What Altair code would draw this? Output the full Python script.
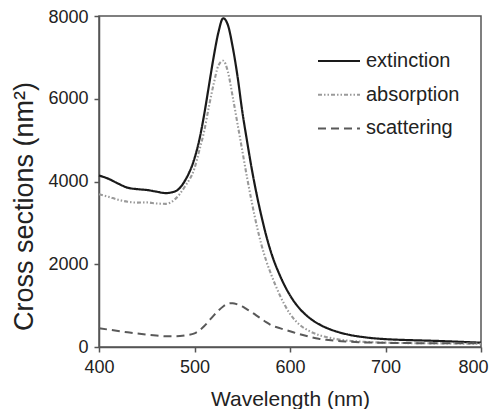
import altair as alt
import pandas as pd

wavelength = [400, 410, 420, 430, 440, 450, 460, 470, 480, 490, 500, 505, 510, 515, 520,
              525, 530, 535, 540, 545, 550, 555, 560, 565, 570, 575, 580, 590, 600, 610,
              620, 630, 640, 650, 660, 680, 700, 720, 750, 800]
extinction = [4145, 4065, 3950, 3850, 3815, 3795, 3755, 3720, 3765, 4020, 4560, 5000, 5600, 6300, 7000,
              7600, 7945, 7780, 7250, 6550, 5700, 4980, 4300, 3700, 3170, 2700, 2300, 1700, 1250, 930,
              710, 555, 445, 365, 305, 230, 190, 170, 150, 104]
absorption = [3690, 3630, 3560, 3510, 3490, 3495, 3470, 3460, 3580, 3880, 4320, 4750, 5200, 5800, 6350,
              6800, 6920, 6650, 6050, 5400, 4750, 4100, 3500, 2950, 2480, 2090, 1770, 1220, 800, 540,
              390, 290, 230, 185, 155, 122, 105, 95, 88, 80]
scattering = [455, 420, 387, 355, 325, 300, 278, 260, 258, 280, 330, 400, 500, 630, 760,
              880, 980, 1050, 1060, 1030, 980, 910, 840, 760, 680, 600, 530, 450, 380, 310,
              250, 200, 170, 145, 130, 110, 100, 95, 92, 88]

series_names = ["extinction", "absorption", "scattering"]
x_ticks = [400, 500, 600, 700, 800]
y_ticks = [0, 2000, 4000, 6000, 8000]

series_values = [extinction, absorption, scattering]
rows = []
for name, vals in zip(series_names, series_values):
    for w, v in zip(wavelength, vals):
        rows.append({"wavelength": w, "value": v, "series": name})
df = pd.DataFrame(rows)

colors = ["#1a1a1a", "#9a9a9a", "#595959"]
dashes = [[1, 0], [4, 2, 1.5, 2, 1.5, 2], [8, 5]]

color_scale = alt.Scale(domain=series_names, range=colors)
dash_scale = alt.Scale(domain=series_names, range=dashes)
width_scale = alt.Scale(domain=series_names, range=[2.2, 2, 2])

lines = alt.Chart(df).mark_line(interpolate="monotone").encode(
    x=alt.X("wavelength:Q",
            scale=alt.Scale(domain=[400, 800], nice=False),
            axis=alt.Axis(values=x_ticks, title="Wavelength  (nm)",
                          titleY=58, titleBaseline="alphabetic",
                          labelOffset=alt.ExprRef(expr="datum.value == 800 ? -8 : 0"))),
    y=alt.Y("value:Q",
            scale=alt.Scale(domain=[0, 8000], nice=False),
            axis=alt.Axis(values=y_ticks, format="d", title="Cross sections  (nm²)",
                          titleX=-67, titleY=190, titleBaseline="alphabetic",
                          titleAngle=270, titleFontSize=27,
                          labelOffset=alt.ExprRef(expr="datum.value == 8000 ? 1.5 : 0"))),
    color=alt.Color("series:N", scale=color_scale, legend=None),
    strokeDash=alt.StrokeDash("series:N", scale=dash_scale, legend=None),
    strokeWidth=alt.StrokeWidth("series:N", scale=width_scale, legend=None),
    detail="series:N",
)

leg_df = pd.DataFrame({"series": series_names, "row": list(range(len(series_names)))})

leg_base = alt.Chart(leg_df).transform_calculate(
    ly="45 + datum.row * 33.7",
    lx1="219",
    lx2="261",
    tx="267",
)

leg_lines = leg_base.mark_rule().encode(
    x=alt.X("lx1:Q", scale=None),
    x2="lx2:Q",
    y=alt.Y("ly:Q", scale=None),
    color=alt.Color("series:N", scale=color_scale, legend=None),
    strokeDash=alt.StrokeDash("series:N", scale=dash_scale, legend=None),
    strokeWidth=alt.StrokeWidth("series:N", scale=width_scale, legend=None),
)

leg_text = leg_base.mark_text(align="left", baseline="middle", fontSize=20,
                              font="Liberation Sans", color="#222222").encode(
    x=alt.X("tx:Q", scale=None),
    y=alt.Y("ly:Q", scale=None),
    text="series:N",
)

chart = alt.layer(lines, leg_lines, leg_text).properties(
    width=382,
    height=331,
    autosize=alt.AutoSizeParams(type="none"),
    padding={"left": 91, "top": 8, "right": 8, "bottom": 62},
).configure_view(
    stroke="#555555", strokeWidth=1.5
).configure_axis(
    grid=False,
    domainColor="#555555", domainWidth=1.5,
    tickColor="#555555", tickWidth=1.5, tickSize=5,
    labelFont="Liberation Sans", labelFontSize=18, labelColor="#222222", labelPadding=6,
    labelFlush=False,
    titleFont="Liberation Sans", titleFontSize=21, titleFontWeight="normal", titleColor="#222222",
)

chart.save("out.html", embed_options={"renderer": "svg", "actions": False})
